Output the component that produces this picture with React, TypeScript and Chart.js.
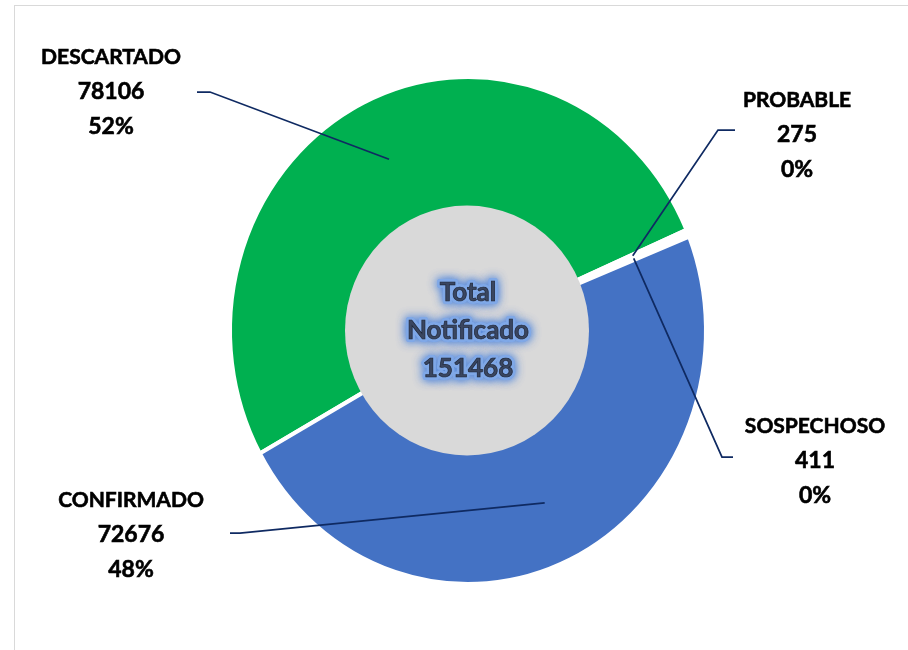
import React, { useEffect, useRef } from "react";
import { Chart, registerables } from "chart.js";

Chart.register(...registerables);

// ---- data ----
const categories = ["DESCARTADO", "PROBABLE", "SOSPECHOSO", "CONFIRMADO"];
const values = [78106, 275, 411, 72676];
const sliceColors = ["#00b050", "#ffffff", "#ffffff", "#4472c4"];
const centerTitle = ["Total", "Notificado"];

// ---- layout (positions only) ----
const labelCenterX = [111, 797, 815, 131];
const labelTopY = [57, 100, 426, 500];
const leaderStartX = [197, 735, 733, 230];
const leaderElbowX = [210, 718, 722, 240];
const leaderY = [92, 130, 457, 533];

const Y_STRETCH = 1.066;
const OUTER_R = 238;
const HOLE_RX = 122;
const HOLE_RY = 125;

const total = values.reduce((a, b) => a + b, 0);

const overlayPlugin = {
  id: "overlay",
  beforeDatasetsDraw(chart: any) {
    const arc = chart.getDatasetMeta(0).data[0];
    if (!arc) return;
    const ctx = chart.ctx;
    ctx.save();
    ctx.translate(arc.x, arc.y);
    ctx.scale(1, Y_STRETCH);
    ctx.translate(-arc.x, -arc.y);
  },
  afterDatasetsDraw(chart: any) {
    const ctx = chart.ctx;
    ctx.restore();
    const meta = chart.getDatasetMeta(0);
    const first = meta.data[0];
    if (!first) return;
    const cx = first.x;
    const cy = first.y;

    // center grey disk
    ctx.save();
    ctx.beginPath();
    ctx.ellipse(cx - 1, cy, HOLE_RX, HOLE_RY, 0, 0, Math.PI * 2);
    ctx.fillStyle = "#d9d9d9";
    ctx.fill();
    ctx.restore();

    // center text with glow
    const lines = [...centerTitle, String(total)];
    ctx.save();
    ctx.font = "bold 26px Lato, 'Open Sans', sans-serif";
    ctx.textAlign = "center";
    ctx.textBaseline = "middle";
    lines.forEach((t, i) => {
      const y = cy - 38 + i * 38;
      ctx.save();
      ctx.shadowColor = "rgba(90,140,220,1)";
      ctx.shadowBlur = 10;
      ctx.lineJoin = "round";
      ctx.strokeStyle = "rgba(130,170,232,0.9)";
      ctx.lineWidth = 6;
      ctx.strokeText(t, cx, y);
      ctx.strokeText(t, cx, y);
      ctx.restore();
      ctx.fillStyle = "#3a4660";
      ctx.fillText(t, cx, y);
      ctx.strokeStyle = "#1e2536";
      ctx.lineWidth = 0.7;
      ctx.strokeText(t, cx, y);
    });
    ctx.restore();

    // leader lines
    const anchorR = (HOLE_RX + OUTER_R - 2) / 2;
    ctx.save();
    ctx.strokeStyle = "#0f2a62";
    ctx.lineWidth = 1.75;
    meta.data.forEach((el: any, i: number) => {
      const mid = (el.startAngle + el.endAngle) / 2;
      const ax = cx + Math.cos(mid) * anchorR;
      const ay = cy + Math.sin(mid) * anchorR * Y_STRETCH;
      ctx.beginPath();
      ctx.moveTo(leaderStartX[i], leaderY[i]);
      ctx.lineTo(leaderElbowX[i], leaderY[i]);
      ctx.lineTo(ax, ay);
      ctx.stroke();
    });
    ctx.restore();

    // labels
    ctx.save();
    ctx.fillStyle = "#000000";
    ctx.strokeStyle = "#000000";
    ctx.lineWidth = 0.6;
    ctx.textAlign = "center";
    ctx.textBaseline = "middle";
    categories.forEach((c, i) => {
      const pct = Math.round((values[i] / total) * 100) + "%";
      const rows = [c, String(values[i]), pct];
      rows.forEach((r, k) => {
        ctx.font = k === 0 ? "bold 21px Lato, 'Open Sans', sans-serif" : "bold 23px Lato, 'Open Sans', sans-serif";
        ctx.fillText(r, labelCenterX[i], labelTopY[i] + k * 35);
        ctx.strokeText(r, labelCenterX[i], labelTopY[i] + k * 35);
      });
    });
    ctx.restore();
  },
};

export default function App() {
  const ref = useRef<HTMLCanvasElement | null>(null);

  useEffect(() => {
    if (!ref.current) return;
    const chart = new Chart(ref.current, {
      type: "doughnut",
      data: {
        labels: categories,
        datasets: [
          {
            data: values,
            backgroundColor: sliceColors,
            borderColor: "#ffffff",
            borderWidth: 4,
            clip: false,
          } as any,
        ],
      },
      options: {
        animation: false,
        responsive: true,
        maintainAspectRatio: false,
        rotation: 241,
        radius: OUTER_R,
        cutout: 100,
        layout: { padding: { left: 232, right: 204, top: 94.5, bottom: 83.5 } },
        plugins: {
          legend: { display: false },
          tooltip: { enabled: false },
        },
      } as any,
      plugins: [overlayPlugin],
    });
    return () => chart.destroy();
  }, []);

  return (
    <div
      style={{
        position: "absolute",
        left: 0,
        top: 0,
        width: 908,
        height: 650,
        overflow: "hidden",
        background: "#ffffff",
      }}
    >
      <div
        style={{
          position: "absolute",
          left: 14,
          top: 5,
          width: 1000,
          height: 1000,
          border: "1px solid #d9d9d9",
        }}
      />
      <div style={{ position: "absolute", left: 0, top: 0, width: 908, height: 650 }}>
        <canvas ref={ref} />
      </div>
    </div>
  );
}
